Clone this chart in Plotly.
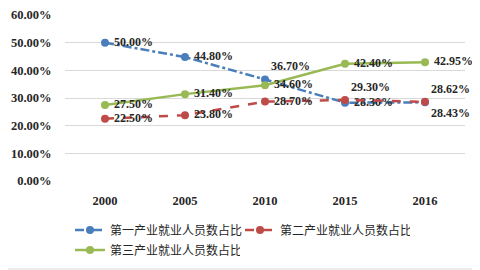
import plotly.graph_objects as go

years = ["2000", "2005", "2010", "2015", "2016"]
primary = [50.00, 44.80, 36.70, 28.30, 28.43]
secondary = [22.50, 23.80, 28.70, 29.30, 28.62]
tertiary = [27.50, 31.40, 34.60, 42.40, 42.95]
names = ["第一产业就业人员数占比", "第二产业就业人员数占比", "第三产业就业人员数占比"]
y_ticks = [0, 10, 20, 30, 40, 50, 60]

pos_primary = ["middle right", "middle right", "top right", "middle right", "bottom right"]
pos_secondary = ["middle right", "middle right", "middle right", "top right", "top right"]
pos_tertiary = ["middle right", "middle right", "middle right", "middle right", "middle right"]

label_font = dict(family="Liberation Serif, Times New Roman, serif", size=12, color="#262626")

# page has an 8px body margin: figure drawn at page offset (8, 8)
W, H = 472, 262


def lbl(v, p):
    pad = "\u00a0" if p == "middle right" else ""
    return f"<b>{pad}{v:.2f}%</b>"


fig = go.Figure()
series = [
    (primary, names[0], "#4A7EBB", "dashdot", pos_primary, "legend"),
    (secondary, names[1], "#BE4B48", "dash", pos_secondary, "legend"),
    (tertiary, names[2], "#98B954", "solid", pos_tertiary, "legend2"),
]
for vals, nm, col, dash, pos, lg in series:
    fig.add_trace(go.Scatter(
        x=years, y=vals, name=nm, mode="lines+markers+text",
        line=dict(color=col, width=2.5, dash=dash),
        marker=dict(color=col, size=8),
        text=[lbl(v, p) for v, p in zip(vals, pos)],
        textposition=pos,
        textfont=label_font,
        cliponaxis=False,
        legend=lg,
    ))

legend_common = dict(
    orientation="h", xanchor="left", yanchor="middle",
    xref="container", yref="container",
    entrywidth=125, entrywidthmode="pixels",
    font=dict(family="Noto Sans CJK SC, sans-serif", size=12, color="#262626"),
    bgcolor="rgba(0,0,0,0)", tracegroupgap=0,
)

fig.update_layout(
    width=W, height=H,
    margin=dict(l=57, r=15, t=7, b=89, autoexpand=False),
    paper_bgcolor="white", plot_bgcolor="white",
    showlegend=True,
    legend=dict(x=62 / W, y=1 - 222 / H, **legend_common),
    legend2=dict(x=62 / W, y=1 - 242 / H, **legend_common),
    xaxis=dict(
        type="category", range=[-0.5, 4.5], showgrid=False, showline=False, zeroline=False,
        automargin=False,
        tickfont=dict(family="Liberation Serif, serif", size=12.5, color="#262626"),
        ticks="outside", ticklen=8, tickcolor="rgba(0,0,0,0)",
        tickprefix="<b>", ticksuffix="</b>",
    ),
    yaxis=dict(
        range=[0, 60], tickvals=y_ticks, automargin=False,
        ticktext=[f"<b>{v:.2f}%</b>" for v in y_ticks],
        showgrid=True, gridcolor="#D9D9D9", gridwidth=1,
        zeroline=False, showline=False,
        tickfont=dict(family="Liberation Serif, serif", size=12.5, color="#262626"),
        ticks="outside", ticklen=10, tickcolor="rgba(0,0,0,0)",
    ),
    shapes=[dict(type="rect", xref="paper", yref="paper",
                 x0=-0.2, x1=(471 - 57) / 400, y0=-(261 - 173) / 166, y1=1.2,
                 line=dict(color="#D9D9D9", width=1), fillcolor="rgba(0,0,0,0)", layer="below")],
)

fig.write_html("out.html")
